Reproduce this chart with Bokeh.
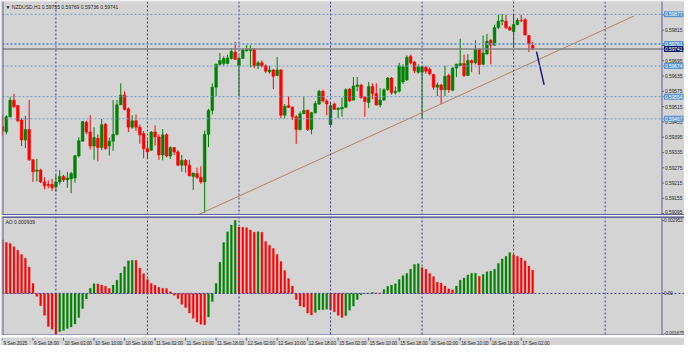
from bokeh.plotting import figure
from bokeh.models import Range1d, Span, Label, ColumnDataSource
from bokeh.core.properties import value
from bokeh.layouts import column
from bokeh.embed import file_html
from bokeh.resources import INLINE

# ---------------- data (NZDUSD H1, 9 Sep 10:00 .. 17 Sep 05:00) ----------------
opens = [0.59436, 0.59416, 0.59475, 0.59540, 0.59519, 0.59462, 0.59384, 0.59425, 0.59306, 0.59261,
         0.59266, 0.59219, 0.59210, 0.59209, 0.59200, 0.59219, 0.59241, 0.59227, 0.59231, 0.59235,
         0.59321, 0.59379, 0.59454, 0.59415, 0.59360, 0.59391, 0.59354, 0.59446, 0.59360, 0.59379,
         0.59406, 0.59522, 0.59560, 0.59506, 0.59434, 0.59459, 0.59434, 0.59409, 0.59350, 0.59344,
         0.59415, 0.59396, 0.59325, 0.59404, 0.59321, 0.59354, 0.59337, 0.59285, 0.59304, 0.59285,
         0.59241, 0.59252, 0.59237, 0.59219, 0.59406, 0.59500, 0.59591, 0.59681, 0.59684, 0.59684,
         0.59704, 0.59729, 0.59675, 0.59704, 0.59734, 0.59734, 0.59740, 0.59675, 0.59687, 0.59675,
         0.59651, 0.59659, 0.59637, 0.59659, 0.59481, 0.59519, 0.59512, 0.59475, 0.59425, 0.59487,
         0.59500, 0.59425, 0.59491, 0.59525, 0.59575, 0.59537, 0.59444, 0.59525, 0.59504, 0.59506,
         0.59512, 0.59584, 0.59540, 0.59594, 0.59600, 0.59552, 0.59531, 0.59594, 0.59566, 0.59521,
         0.59541, 0.59581, 0.59627, 0.59569, 0.59575, 0.59612, 0.59619, 0.59712, 0.59690, 0.59650,
         0.59650, 0.59669, 0.59662, 0.59641, 0.59591, 0.59600, 0.59581, 0.59637, 0.59579, 0.59666,
         0.59675, 0.59684, 0.59637, 0.59696, 0.59687, 0.59741, 0.59681, 0.59721, 0.59775, 0.59756,
         0.59825, 0.59850, 0.59850, 0.59825, 0.59809, 0.59837, 0.59854, 0.59856, 0.59794, 0.59755]
highs = [0.59481, 0.59481, 0.59552, 0.59565, 0.59521, 0.59469, 0.59479, 0.59541, 0.59309, 0.59310,
         0.59271, 0.59237, 0.59225, 0.59231, 0.59246, 0.59266, 0.59247, 0.59259, 0.59259, 0.59325,
         0.59394, 0.59459, 0.59459, 0.59481, 0.59434, 0.59406, 0.59466, 0.59450, 0.59394, 0.59541,
         0.59541, 0.59606, 0.59575, 0.59512, 0.59481, 0.59484, 0.59444, 0.59419, 0.59384, 0.59419,
         0.59441, 0.59406, 0.59427, 0.59410, 0.59359, 0.59356, 0.59344, 0.59325, 0.59309, 0.59306,
         0.59256, 0.59275, 0.59281, 0.59421, 0.59506, 0.59606, 0.59684, 0.59725, 0.59712, 0.59719,
         0.59744, 0.59769, 0.59712, 0.59741, 0.59756, 0.59756, 0.59744, 0.59694, 0.59696, 0.59681,
         0.59675, 0.59662, 0.59710, 0.59662, 0.59525, 0.59556, 0.59516, 0.59481, 0.59496, 0.59556,
         0.59504, 0.59494, 0.59537, 0.59581, 0.59581, 0.59544, 0.59531, 0.59531, 0.59512, 0.59550,
         0.59587, 0.59587, 0.59631, 0.59631, 0.59604, 0.59556, 0.59612, 0.59606, 0.59606, 0.59587,
         0.59587, 0.59631, 0.59631, 0.59594, 0.59687, 0.59681, 0.59716, 0.59719, 0.59694, 0.59681,
         0.59675, 0.59675, 0.59669, 0.59644, 0.59609, 0.59604, 0.59675, 0.59644, 0.59669, 0.59684,
         0.59781, 0.59719, 0.59721, 0.59700, 0.59775, 0.59744, 0.59794, 0.59800, 0.59779, 0.59837,
         0.59875, 0.59879, 0.59875, 0.59831, 0.59875, 0.59862, 0.59875, 0.59862, 0.59796, 0.59769]
lows = [0.59400, 0.59406, 0.59472, 0.59509, 0.59454, 0.59360, 0.59352, 0.59302, 0.59219, 0.59221,
        0.59215, 0.59190, 0.59194, 0.59184, 0.59181, 0.59209, 0.59219, 0.59196, 0.59175, 0.59216,
        0.59316, 0.59379, 0.59406, 0.59346, 0.59306, 0.59300, 0.59344, 0.59346, 0.59322, 0.59341,
        0.59402, 0.59522, 0.59500, 0.59415, 0.59427, 0.59419, 0.59369, 0.59312, 0.59312, 0.59341,
        0.59362, 0.59306, 0.59304, 0.59316, 0.59309, 0.59325, 0.59281, 0.59259, 0.59256, 0.59241,
        0.59187, 0.59231, 0.59212, 0.59098, 0.59356, 0.59484, 0.59556, 0.59675, 0.59675, 0.59681,
        0.59700, 0.59700, 0.59556, 0.59704, 0.59731, 0.59669, 0.59666, 0.59662, 0.59669, 0.59646,
        0.59644, 0.59584, 0.59634, 0.59469, 0.59469, 0.59511, 0.59462, 0.59369, 0.59421, 0.59485,
        0.59419, 0.59406, 0.59487, 0.59521, 0.59531, 0.59481, 0.59441, 0.59504, 0.59469, 0.59475,
        0.59509, 0.59534, 0.59540, 0.59575, 0.59546, 0.59475, 0.59509, 0.59544, 0.59519, 0.59512,
        0.59537, 0.59577, 0.59562, 0.59562, 0.59571, 0.59604, 0.59616, 0.59681, 0.59646, 0.59644,
        0.59469, 0.59644, 0.59637, 0.59581, 0.59556, 0.59525, 0.59556, 0.59569, 0.59575, 0.59631,
        0.59675, 0.59631, 0.59634, 0.59650, 0.59681, 0.59641, 0.59679, 0.59719, 0.59681, 0.59754,
        0.59819, 0.59834, 0.59819, 0.59812, 0.59746, 0.59834, 0.59846, 0.59794, 0.59729, 0.59736]
closes = [0.59419, 0.59475, 0.59540, 0.59515, 0.59459, 0.59384, 0.59425, 0.59306, 0.59259, 0.59266,
          0.59219, 0.59204, 0.59205, 0.59196, 0.59219, 0.59241, 0.59227, 0.59235, 0.59252, 0.59322,
          0.59381, 0.59456, 0.59415, 0.59360, 0.59394, 0.59354, 0.59444, 0.59350, 0.59379, 0.59406,
          0.59522, 0.59560, 0.59504, 0.59434, 0.59459, 0.59434, 0.59404, 0.59350, 0.59337, 0.59415,
          0.59396, 0.59325, 0.59404, 0.59321, 0.59354, 0.59337, 0.59285, 0.59304, 0.59285, 0.59244,
          0.59254, 0.59237, 0.59219, 0.59406, 0.59500, 0.59591, 0.59681, 0.59696, 0.59704, 0.59706,
          0.59731, 0.59700, 0.59704, 0.59737, 0.59740, 0.59741, 0.59675, 0.59687, 0.59675, 0.59654,
          0.59659, 0.59634, 0.59659, 0.59481, 0.59516, 0.59511, 0.59475, 0.59425, 0.59487, 0.59500,
          0.59425, 0.59491, 0.59527, 0.59575, 0.59537, 0.59525, 0.59519, 0.59504, 0.59509, 0.59512,
          0.59581, 0.59537, 0.59596, 0.59600, 0.59550, 0.59535, 0.59594, 0.59566, 0.59521, 0.59541,
          0.59581, 0.59627, 0.59569, 0.59575, 0.59675, 0.59671, 0.59709, 0.59687, 0.59656, 0.59671,
          0.59671, 0.59654, 0.59644, 0.59591, 0.59600, 0.59581, 0.59634, 0.59581, 0.59666, 0.59681,
          0.59684, 0.59637, 0.59696, 0.59687, 0.59741, 0.59679, 0.59725, 0.59771, 0.59756, 0.59825,
          0.59850, 0.59854, 0.59825, 0.59816, 0.59837, 0.59854, 0.59852, 0.59796, 0.59762, 0.59741]
ao_values = [0.002165, 0.002060, 0.002021, 0.001891, 0.001747, 0.001578, 0.001421, 0.001069, 0.000404, -0.000117,
             -0.000496, -0.000887, -0.001343, -0.001447, -0.001640, -0.001552, -0.001500, -0.001421, -0.001356, -0.001239,
             -0.000978, -0.000613, -0.000222, 0.000209, 0.000391, 0.000385, 0.000339, 0.000287, 0.000196, 0.000339,
             0.000535, 0.000822, 0.001082, 0.001317, 0.001343, 0.001340, 0.001030, 0.000795, 0.000561, 0.000404,
             0.000326, 0.000248, 0.000209, 0.000196, 0.000065, -0.000078, -0.000209, -0.000443, -0.000574, -0.000795,
             -0.001004, -0.001161, -0.001252, -0.001265, -0.000952, -0.000326, 0.000404, 0.001265, 0.002060, 0.002491,
             0.002764, 0.002952, 0.002686, 0.002680, 0.002660, 0.002569, 0.002478, 0.002491, 0.002476, 0.002099,
             0.001943, 0.001813, 0.001578, 0.001291, 0.000926, 0.000600, 0.000300, -0.000248, -0.000509, -0.000548,
             -0.000795, -0.000874, -0.000769, -0.000665, -0.000660, -0.000639, -0.000665, -0.000743, -0.000887, -0.000978,
             -0.000900, -0.000678, -0.000509, -0.000248, -0.000052, -0.000010, 0.000010, 0.000039, 0.000020, 0.000012,
             0.000156, 0.000287, 0.000339, 0.000391, 0.000561, 0.000717, 0.000808, 0.000978, 0.001174, 0.001200,
             0.001043, 0.000978, 0.000808, 0.000678, 0.000456, 0.000417, 0.000300, 0.000183, 0.000143, 0.000300,
             0.000535, 0.000626, 0.000743, 0.000808, 0.000815, 0.000691, 0.000769, 0.000874, 0.000900, 0.000978,
             0.001213, 0.001395, 0.001500, 0.001656, 0.001565, 0.001500, 0.001434, 0.001317, 0.001108, 0.000939]

time_ticks = [0, 8, 16, 24, 32, 40, 48, 56, 64, 72, 80, 88, 96, 104, 112, 120, 128, 136]
time_labels = ["9 Sep 2025", "9 Sep 18:00", "10 Sep 02:00", "10 Sep 10:00", "10 Sep 18:00",
               "11 Sep 02:00", "11 Sep 10:00", "11 Sep 18:00", "12 Sep 02:00", "12 Sep 10:00",
               "12 Sep 18:00", "15 Sep 02:00", "15 Sep 10:00", "15 Sep 18:00", "16 Sep 02:00",
               "16 Sep 10:00", "16 Sep 18:00", "17 Sep 02:00"]
day_starts = [14, 38, 62, 86, 110, 134, 158]
price_ticks = [0.59095, 0.59155, 0.59215, 0.59275, 0.59335, 0.59395, 0.59455, 0.59515,
               0.59575, 0.59635, 0.59695, 0.59755, 0.59815, 0.59875]
price_tick_labels = ["0.59095", "0.59155", "0.59215", "0.59275", "0.59335", "0.59395", "0.59455",
                     "0.59515", "0.59575", "0.59635", "0.59695", "0.59755", "0.59815", "0.59875"]
level_prices = [0.59877, 0.59761, 0.59674, 0.59554, 0.59467]
level_labels = ["0.59877", "0.59761", "0.59674", "0.59554", "0.59467"]
bid_price = 0.59741
bid_label = "0.59741"
trend_x = [51.2, 165.5]
trend_y = [0.59090, 0.59870]
forecast_x = [140.0, 142.0]
forecast_y = [0.59731, 0.59600]
ao_ticks = [-0.001675, 0.0, 0.002952]
ao_tick_labels = ["-0.001675", "0.00", "0.002952"]
header_text = "\u25bc NZDUSD,H1  0.59755 0.59769 0.59736 0.59741"
ao_text = "AO 0.000939"

# ---------------- style / layout ----------------
BG = "#d4d4d4"
FRAME = "#5f5f99"
GRID = "#3c3c8c"
LEVEL = "#6f9ac6"
UP = "#008000"
DOWN = "#ff0000"
TXT = "#1e1e1e"
FONT = "Liberation Sans"
FS = "5px"
FW = 682
AXIS_X = 172.9          # bar position of the price-scale line
xr = Range1d(0.0, 178.8)

n = len(opens)
idx = list(range(n))


def base_fig(h, yr, top=1):
    f = figure(frame_width=FW, frame_height=h, x_range=xr, y_range=yr,
               output_backend="svg", toolbar_location=None,
               x_axis_location=None, y_axis_location=None,
               background_fill_color=BG, border_fill_color=BG,
               min_border_left=2, min_border_right=0, min_border_top=top, min_border_bottom=0)
    f.grid.visible = False
    f.outline_line_color = None
    return f


# ---------------- main price panel ----------------
p1 = base_fig(214, Range1d(0.590875, 0.599275))
for d in day_starts:
    p1.add_layout(Span(location=d, dimension="height", line_color=GRID, line_dash="2 2", line_width=1))
for lp in level_prices:
    p1.add_layout(Span(location=lp, dimension="width", line_color=LEVEL, line_dash="2 2",
                       line_width=2 if lp == 0.59761 else 1))
p1.add_layout(Span(location=bid_price, dimension="width", line_color="#808080", line_width=1.5))

ccol = [UP if c >= o else DOWN for o, c in zip(opens, closes)]
src = ColumnDataSource(dict(x=idx, o=opens, h=highs, l=lows, c=closes,
                            top=[max(o, c) for o, c in zip(opens, closes)],
                            bot=[min(o, c) for o, c in zip(opens, closes)], color=ccol))
p1.segment(x0="x", y0="l", x1="x", y1="h", line_color="color", line_width=1, source=src)
p1.vbar(x="x", top="top", bottom="bot", width=0.72, fill_color="color", line_color="color",
        line_width=0.5, source=src)

p1.line(trend_x, trend_y, line_color="#b5825f", line_width=1)
p1.line(forecast_x, forecast_y, line_color="#1c1c7a", line_width=1.5)

# price scale (right)
p1.add_layout(Span(location=AXIS_X, dimension="height", line_color=FRAME, line_width=1))
p1.add_layout(Span(location=xr.start, dimension="height", line_color=FRAME, line_width=2))
p1.add_layout(Span(location=p1.y_range.start, dimension="width", line_color=FRAME, line_width=3))
p1.segment(x0=[AXIS_X] * len(price_ticks), x1=[AXIS_X + 0.5] * len(price_ticks),
           y0=price_ticks, y1=price_ticks, line_color=FRAME, line_width=1)
p1.text(x=[AXIS_X] * len(price_ticks), y=price_ticks, text=price_tick_labels, x_offset=3,
        text_font=value(FONT), text_font_size="4.8px", text_color=TXT,
        text_baseline=["bottom"] + ["middle"] * (len(price_ticks) - 1), text_align="left")

for lp, lt in zip(level_prices, level_labels):
    p1.add_layout(Label(x=AXIS_X, y=lp, x_offset=2, text=lt, text_font_size="4.8px", text_font=FONT,
                        text_color="white", text_baseline="middle", text_align="left",
                        background_fill_color="#5b95d0", padding=1))
p1.add_layout(Label(x=AXIS_X, y=bid_price, x_offset=2, text=bid_label, text_font_size="4.8px",
                    text_font=FONT, text_color="white", text_baseline="middle", text_align="left",
                    background_fill_color="#101c5c", padding=1))
p1.add_layout(Label(x=xr.start, y=p1.y_range.end, x_offset=3, y_offset=-5, text=header_text,
                    text_font_size=FS, text_font=FONT, text_color=TXT, text_baseline="middle"))

# ---------------- AO panel ----------------
p2 = base_fig(119, Range1d(-0.001702, 0.003110))
for d in day_starts:
    p2.add_layout(Span(location=d, dimension="height", line_color=GRID, line_dash="2 2", line_width=1))
p2.add_layout(Span(location=0, dimension="width", line_color=GRID, line_dash="2 2", line_width=1))

ao_col = [DOWN] + [UP if ao_values[i] > ao_values[i - 1] else DOWN for i in range(1, n)]
p2.vbar(x=idx, top=ao_values, bottom=0, width=0.5, fill_color=ao_col, line_color=ao_col, line_width=0.3)

p2.add_layout(Span(location=AXIS_X, dimension="height", line_color=FRAME, line_width=1))
p2.add_layout(Span(location=xr.start, dimension="height", line_color=FRAME, line_width=2))
p2.add_layout(Span(location=p2.y_range.end, dimension="width", line_color=FRAME, line_width=3))
p2.add_layout(Span(location=p2.y_range.start, dimension="width", line_color=FRAME, line_width=2))
p2.segment(x0=[AXIS_X] * len(ao_ticks), x1=[AXIS_X + 0.5] * len(ao_ticks),
           y0=ao_ticks, y1=ao_ticks, line_color=FRAME, line_width=1)
p2.text(x=[AXIS_X] * len(ao_ticks), y=ao_ticks, text=ao_tick_labels, x_offset=2,
        text_font=value(FONT), text_font_size="4.5px", text_color=TXT,
        text_baseline=["bottom", "middle", "middle"], text_align="left")
p2.add_layout(Label(x=xr.start, y=p2.y_range.end, x_offset=3, y_offset=-5, text=ao_text,
                    text_font_size=FS, text_font=FONT, text_color=TXT, text_baseline="middle"))

# ---------------- time scale ----------------
p3 = base_fig(10, Range1d(0, 1), top=0)
p3.segment(x0=time_ticks, x1=time_ticks, y0=[1.0] * len(time_ticks), y1=[0.7] * len(time_ticks),
           line_color=FRAME, line_width=1)
p3.text(x=time_ticks, y=[0.45] * len(time_ticks), text=time_labels, x_offset=1,
        text_font=value(FONT), text_font_size="4.6px", text_color=TXT,
        text_baseline="middle", text_align="left")

layout = column(p1, p2, p3, spacing=0)
open("out.html", "w").write(file_html(layout, INLINE))
